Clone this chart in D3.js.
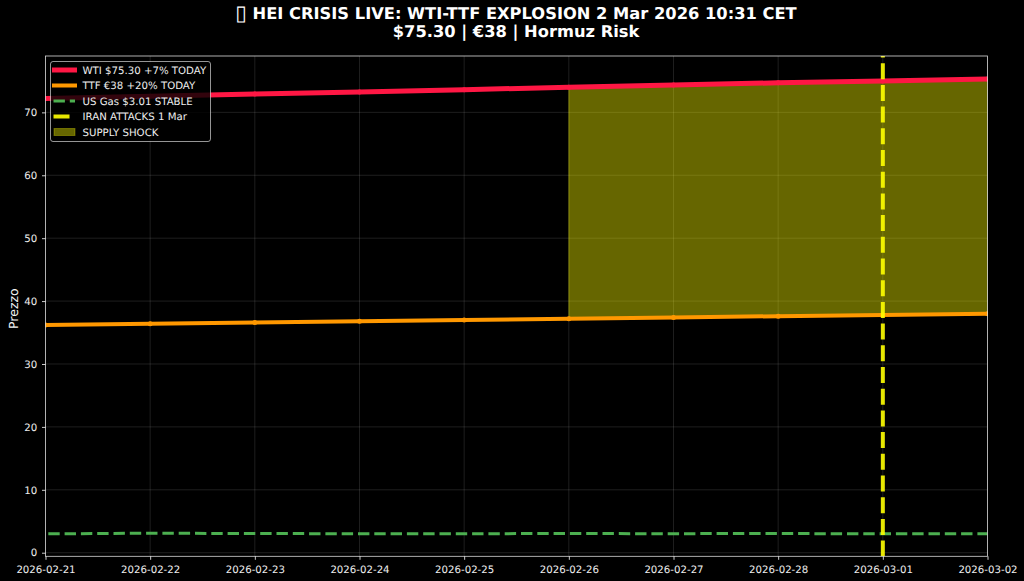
<!DOCTYPE html>
<html><head><meta charset="utf-8">
<script src="https://cdn.jsdelivr.net/npm/d3@7"></script>
<style>html,body{margin:0;padding:0;background:#000}svg{display:block}text{font-family:"DejaVu Sans",sans-serif;text-rendering:geometricPrecision}</style>
</head><body><svg id="c" width="1024" height="581"></svg>
<script>
const dates=["2026-02-21","2026-02-22","2026-02-23","2026-02-24","2026-02-25","2026-02-26","2026-02-27","2026-02-28","2026-03-01","2026-03-02"];
const wti=[72.2,72.55,72.9,73.25,73.6,74.0,74.35,74.7,75.0,75.3];
const ttf=[36.2,36.4,36.6,36.8,37.0,37.2,37.4,37.6,37.8,38.0];
const gas=[3.0,3.1,3.05,3.02,3.03,3.04,3.03,3.05,3.0,3.01];
const yTicks=[0,10,20,30,40,50,60,70];
const shockDates=["2026-02-26","2026-02-27","2026-02-28","2026-03-01","2026-03-02"];
const attackDate="2026-03-01";
const legendLabels=["WTI $75.30 +7% TODAY","TTF €38 +20% TODAY","US Gas $3.01 STABLE","IRAN ATTACKS 1 Mar","SUPPLY SHOCK"];
const titleGlyph="\u25AF";
const titleLines=["HEI CRISIS LIVE: WTI-TTF EXPLOSION 2 Mar 2026 10:31 CET","$75.30 | €38 | Hormuz Risk"];
const yLabel="Prezzo";

const parse=d3.utcParse("%Y-%m-%d"), fmt=d3.utcFormat("%Y-%m-%d");
const L=45.5,R=987.5,T=56,B=556.3;
const x=d3.scaleUtc().domain([parse(dates[0]),parse(dates[dates.length-1])]).range([L,R]);
const y=d3.scaleLinear().domain([-0.57,78.96]).range([B,T]);
const svg=d3.select("#c");
svg.append("rect").attr("width",1024).attr("height",581).attr("fill","#000");
const defs=svg.append("defs");
defs.append("clipPath").attr("id","clip").append("rect").attr("x",L).attr("y",T).attr("width",R-L).attr("height",B-T);

const plot=svg.append("g").attr("clip-path","url(#clip)");
// grid
plot.append("g").selectAll("line").data(dates).join("line")
 .attr("x1",d=>x(parse(d))).attr("x2",d=>x(parse(d))).attr("y1",T).attr("y2",B)
 .attr("stroke","#fff").attr("stroke-opacity",.15).attr("stroke-width",.8);
plot.append("g").selectAll("line").data(yTicks).join("line")
 .attr("y1",d=>y(d)).attr("y2",d=>y(d)).attr("x1",L).attr("x2",R)
 .attr("stroke","#fff").attr("stroke-opacity",.15).attr("stroke-width",.8);
// shock band
const idx=d=>dates.indexOf(d);
const area=d3.area().x(d=>x(parse(d))).y0(d=>y(ttf[idx(d)])).y1(d=>y(wti[idx(d)]));
plot.append("path").datum(shockDates).attr("d",area).attr("fill","#ffff00").attr("fill-opacity",.4)
 .attr("stroke","#ffff00").attr("stroke-opacity",.3).attr("stroke-width",1);
// lines
const line=s=>d3.line().x((d,i)=>x(parse(dates[i]))).y(d=>y(d))(s);
plot.append("path").attr("d",line(wti)).attr("fill","none").attr("stroke","#ff1744").attr("stroke-width",5);
plot.append("g").selectAll("circle").data(wti).join("circle").attr("cx",(d,i)=>x(parse(dates[i]))).attr("cy",d=>y(d)).attr("r",2.5).attr("fill","#ff1744");
plot.append("path").attr("d",line(ttf)).attr("fill","none").attr("stroke","#ff9800").attr("stroke-width",4);
plot.append("g").selectAll("circle").data(ttf).join("circle").attr("cx",(d,i)=>x(parse(dates[i]))).attr("cy",d=>y(d)).attr("r",2.5).attr("fill","#ff9800");
plot.append("path").attr("d",line(gas)).attr("fill","none").attr("stroke","#4caf50").attr("stroke-width",3).attr("stroke-dasharray","11.4 4.9").attr("stroke-dashoffset",13.5);
plot.append("line").attr("x1",x(parse(attackDate))).attr("x2",x(parse(attackDate))).attr("y1",B+.3).attr("y2",T)
 .attr("stroke","#ffff00").attr("stroke-width",4).attr("stroke-opacity",.9).attr("stroke-dasharray","16 5.7");
// axes
const xAxis=d3.axisBottom(x).tickValues(dates.map(parse)).tickFormat(fmt).tickSize(3.5).tickPadding(5.5);
const gx=svg.append("g").attr("transform",`translate(0,${B})`).call(xAxis);
const yAxis=d3.axisLeft(y).tickValues(yTicks).tickSize(3.5).tickPadding(4.8);
const gy=svg.append("g").attr("transform",`translate(${L},0)`).call(yAxis);
for(const g of [gx,gy]){g.select(".domain").remove();g.selectAll("line").attr("stroke","#fff").attr("stroke-width",.8);g.selectAll("text").attr("fill","#eee").attr("font-size",10.2).attr("font-family","DejaVu Sans");}
svg.append("rect").attr("x",L).attr("y",T).attr("width",R-L).attr("height",B-T).attr("fill","none").attr("stroke","#fff").attr("stroke-opacity",.85).attr("stroke-width",.8);
// titles
svg.append("text").attr("transform",`translate(14,${(T+B)/2+2.5}) rotate(-90)`).attr("text-anchor","middle").attr("fill","#f4f4f4").attr("font-size",12.5).attr("dy","0.35em").text(yLabel);
const t1=svg.append("text").attr("x",516).attr("y",18.8).attr("text-anchor","middle").attr("fill","#fff").attr("font-size",16.3).attr("font-weight","bold");
t1.append("tspan").attr("font-size",21).attr("font-weight","normal").attr("dy",1).text(titleGlyph);
t1.append("tspan").attr("dy",-1).text(" "+titleLines[0]);
svg.append("text").attr("x",516).attr("y",37).attr("text-anchor","middle").attr("fill","#fff").attr("font-size",16.3).attr("font-weight","bold").text(titleLines[1]);
// legend
const lg=svg.append("g");
lg.append("rect").attr("x",50.5).attr("y",61.5).attr("width",160).attr("height",80).attr("rx",2.5)
 .attr("fill","#000").attr("fill-opacity",.8).attr("stroke","#fff").attr("stroke-opacity",.65).attr("stroke-width",.9);
const rowY=i=>70+i*15.5;
const item=lg.selectAll("g").data(legendLabels).join("g");
item.append("text").attr("x",82.5).attr("y",(d,i)=>rowY(i)+3.6).attr("fill","#eee").attr("font-size",10.2).text(d=>d);
const sw=[["#ff1744",5,null,1],["#ff9800",4,null,1],["#4caf50",3,"11.4 4.9",1],["#ffff00",4,"16 6",.9]];
sw.forEach((s,i)=>{const l=lg.append("line").attr("x1",i<2?52:53.5).attr("x2",i<2?77:75).attr("y1",rowY(i)).attr("y2",rowY(i))
 .attr("stroke",s[0]).attr("stroke-width",s[1]).attr("stroke-opacity",s[3]);if(s[2])l.attr("stroke-dasharray",s[2]);});
lg.append("rect").attr("x",54).attr("y",rowY(4)-3.5).attr("width",21).attr("height",7).attr("fill","#ffff00").attr("fill-opacity",.4).attr("stroke","#ffff00").attr("stroke-opacity",.3);
</script></body></html>
